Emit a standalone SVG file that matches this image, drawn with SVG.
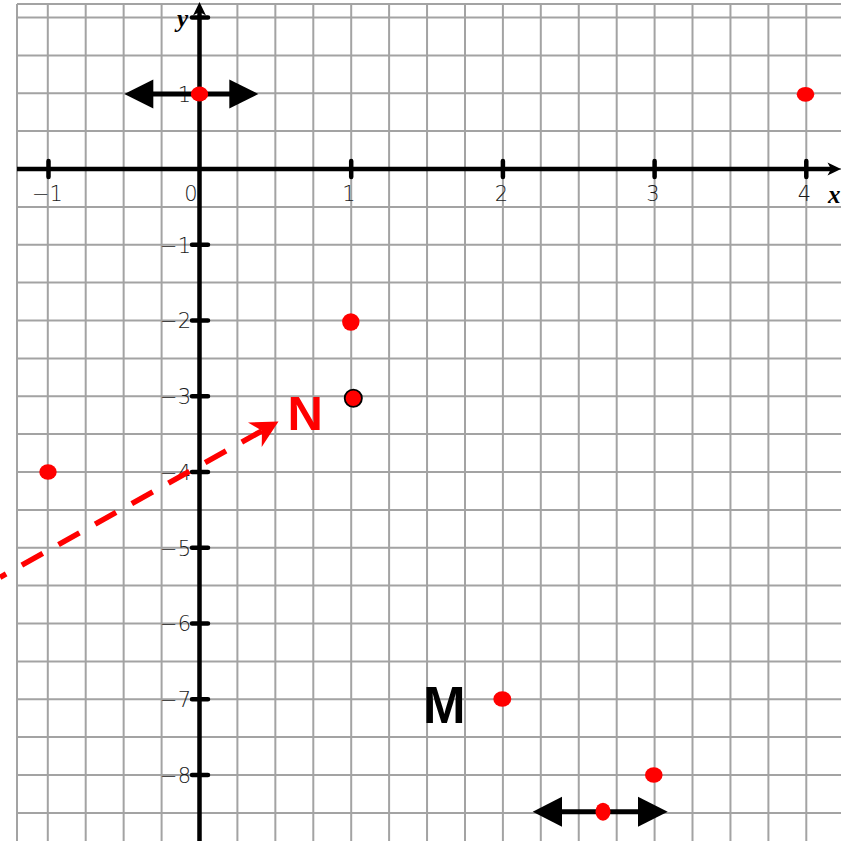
<svg xmlns="http://www.w3.org/2000/svg" width="841" height="841" viewBox="0 0 841 841">
  <style>
    .grid { stroke: #a3a3a3; stroke-width: 2; fill: none; }
    .axis { stroke: #000; stroke-width: 4.5; fill: none; }
    .tick { stroke: #000; stroke-width: 4.5; stroke-linecap: round; fill: none; }
    .num { font-family: "DejaVu Sans", "Liberation Sans", sans-serif; font-weight: 200; font-size: 21px; fill: #1a1a1a; }
    .var { font-family: "Liberation Serif", serif; font-style: italic; font-weight: bold; font-size: 25px; fill: #000; }
    .dot { fill: #ff0000; }
    .dbl { stroke: #000; stroke-width: 5; fill: none; }
    .head { fill: #000; }
    .lbl { font-family: "Liberation Sans", Arial, sans-serif; font-weight: bold; }
  </style>
  <rect x="0" y="0" width="841" height="841" fill="#fff"/>
  <g id="grid" class="grid">
    <path d="M17 4V841M47.8 4V841M85.7 4V841M123.65 4V841M161.6 4V841M199.5 4V841M237.4 4V841M275.35 4V841M313.3 4V841M351.2 4V841M389.1 4V841M427.05 4V841M465 4V841M502.9 4V841M540.8 4V841M578.75 4V841M616.7 4V841M654.6 4V841M692.5 4V841M730.45 4V841M768.4 4V841M806.3 4V841"/>
    <path d="M17 4H841M17 17.5H841M17 55.4H841M17 93.25H841M17 131.1H841M17 169H841M17 206.9H841M17 244.75H841M17 282.6H841M17 320.5H841M17 358.4H841M17 396.25H841M17 434.1H841M17 472H841M17 509.9H841M17 547.75H841M17 585.6H841M17 623.5H841M17 661.4H841M17 699.25H841M17 737.1H841M17 775H841M17 812.9H841"/>
  </g>
  <g id="axes">
    <path class="axis" d="M17 169H833M199.5 841V10"/>
    <polygon class="head" points="841,169 827.5,162.5 831,169 827.5,175.5"/>
    <polygon class="head" points="199.5,2 193,15.5 199.5,12 206,15.5"/>
    <path class="tick" d="M48.5 161V177M351.2 161V177M502.9 161V177M654.6 161V177M806.3 161V177"/>
    <path class="tick" d="M192 17.5H208M192 244.75H208M192 320.5H208M192 396.25H208M192 472H208M192 547.75H208M192 623.5H208M192 699.25H208M192 775H208"/>
    <g class="num" text-anchor="middle">
      <text x="47.5" y="201">−1</text>
      <text x="191" y="201">0</text>
      <text x="349" y="201">1</text>
      <text x="501.5" y="201">2</text>
      <text x="653" y="201">3</text>
      <text x="804.5" y="201">4</text>
    </g>
    <g class="num" text-anchor="end">
      <text x="191" y="101.8">1</text>
      <text x="191" y="252.5">−1</text>
      <text x="191" y="328.3">−2</text>
      <text x="191" y="404">−3</text>
      <text x="191" y="479.8">−4</text>
      <text x="191" y="555.5">−5</text>
      <text x="191" y="631.3">−6</text>
      <text x="191" y="707">−7</text>
      <text x="191" y="782.8">−8</text>
    </g>
    <text class="var" x="177" y="27">y</text>
    <text class="var" x="828" y="203">x</text>
  </g>
  <g id="connectors">
    <g id="arrow-N">
      <path d="M0 577.3L262 430.8" stroke="#ff0000" stroke-width="5.5" stroke-dasharray="24 18" stroke-dashoffset="17" fill="none"/>
      <polygon fill="#ff0000" points="278.5,421.5 248,422.5 262,430.8 261.7,447"/>
    </g>
    <g id="arrow-top">
      <path class="dbl" d="M150 94H232"/>
      <polygon class="head" points="124.3,94 153.3,79.5 153.3,108.5"/>
      <polygon class="head" points="258.3,94 229.3,79.5 229.3,108.5"/>
    </g>
    <g id="arrow-bottom">
      <path class="dbl" d="M558 811.7H642"/>
      <polygon class="head" points="532.7,811.7 562,796.7 562,826.7"/>
      <polygon class="head" points="667.7,811.7 638,796.7 638,826.7"/>
    </g>
  </g>
  <g id="points">
    <ellipse id="p-0-1" class="dot" cx="199.5" cy="94" rx="8.7" ry="7.5"/>
    <ellipse id="p-4-1" class="dot" cx="805.5" cy="94.3" rx="8.8" ry="7.4"/>
    <circle id="p-1-m2" class="dot" cx="350.8" cy="322" r="8.7"/>
    <circle id="p-1-m3" class="dot" cx="353.3" cy="398.3" r="8.6" stroke="#000" stroke-width="1.8"/>
    <ellipse id="p-m1-m4" class="dot" cx="48" cy="472" rx="8.7" ry="7.8"/>
    <ellipse id="p-2-m7" class="dot" cx="502.3" cy="699" rx="9" ry="7.7"/>
    <ellipse id="p-3-m8" class="dot" cx="653.8" cy="775" rx="8.8" ry="7.7"/>
    <ellipse id="p-bottom" class="dot" cx="603" cy="811.7" rx="7.5" ry="9"/>
  </g>
  <g id="label-N"><text class="lbl" x="287.5" y="430" font-size="49" fill="#ff0000">N</text></g>
  <g id="label-M"><text class="lbl" x="423" y="722.7" font-size="51" fill="#000">M</text></g>
</svg>
